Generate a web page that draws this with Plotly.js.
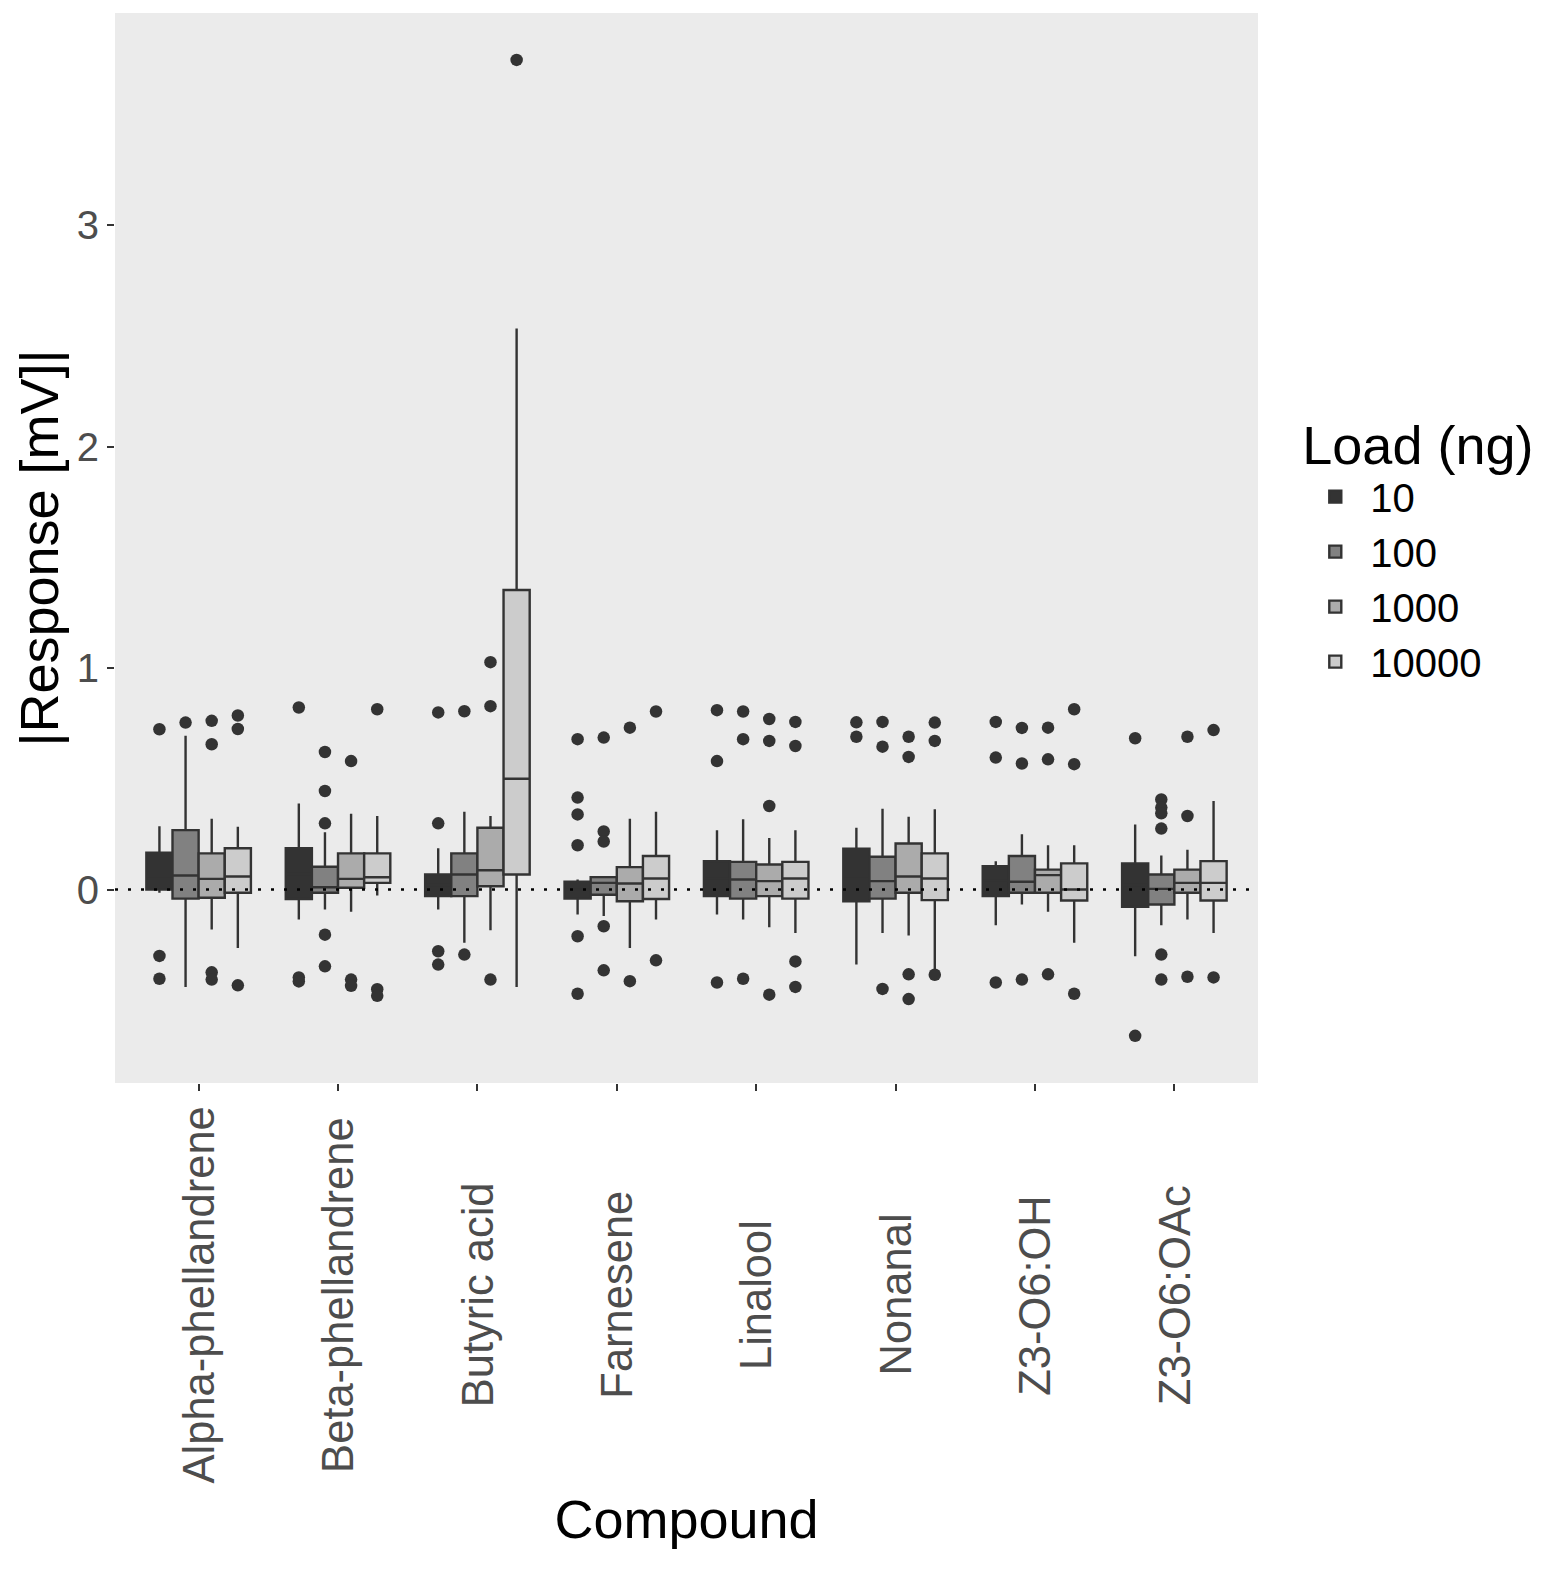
<!DOCTYPE html>
<html>
<head>
<meta charset="utf-8">
<script src="https://cdn.plot.ly/plotly-3.0.1.min.js"></script>
<style>html,body{margin:0;padding:0;background:#fff;overflow:hidden;}#chart{width:1541px;height:1569px;overflow:hidden;}</style>
</head>
<body>
<div id="chart"></div>
<script>
const compounds = ['Alpha-phellandrene','Beta-phellandrene','Butyric acid','Farnesene','Linalool','Nonanal','Z3-O6:OH','Z3-O6:OAc'];
const loads = ['10','100','1000','10000'];
const fills = ['#333333','#818181','#ababab','#cccccc'];

// per load: values per compound (in compound order)
const q1_10   = [0.000,-0.043,-0.030,-0.041,-0.030,-0.053,-0.030,-0.078];
const med_10  = [0.060, 0.070, 0.020, 0.000, 0.050, 0.060, 0.040, 0.020];
const q3_10   = [0.166, 0.186, 0.068, 0.035, 0.128, 0.184, 0.105, 0.118];
const lo_10   = [-0.015,-0.136,-0.090,-0.113,-0.113,-0.339,-0.161,-0.302];
const hi_10   = [0.286, 0.389, 0.186, 0.045, 0.268, 0.279, 0.128, 0.294];
const out_10  = [[0.724,-0.300,-0.403],[0.822,-0.397,-0.415],[0.800,0.299,-0.279,-0.339],[0.679,0.415,0.339,0.200,-0.211,-0.471],[0.810,0.580,-0.420],[0.755,0.690],[0.757,0.596,-0.420],[0.683,-0.661]];

const q1_100  = [-0.041,-0.015,-0.030,-0.024,-0.041,-0.041,-0.015,-0.068];
const med_100 = [0.063, 0.010, 0.068, 0.030, 0.045, 0.038, 0.035, 0.003];
const q3_100  = [0.268, 0.103, 0.163, 0.056, 0.125, 0.148, 0.151, 0.068];
const lo_100  = [-0.440,-0.090,-0.241,-0.120,-0.136,-0.196,-0.068,-0.161];
const hi_100  = [0.694, 0.259, 0.351, 0.056, 0.317, 0.365, 0.249, 0.154];
const out_100 = [[0.754],[0.621,0.445,0.299,-0.204,-0.347],[0.805,-0.294],[0.686,0.262,0.217,-0.166,-0.365],[0.804,0.679,-0.403],[0.757,0.645,-0.449],[0.730,0.569,-0.407],[0.407,0.370,0.344,0.275,-0.294,-0.407]];

const q1_1000  = [-0.037,0.008,0.015,-0.053,-0.030,-0.015,-0.015,-0.015];
const med_1000 = [0.048,0.048,0.087,0.027,0.038,0.059,0.065,0.030];
const q3_1000  = [0.163,0.163,0.279,0.101,0.113,0.208,0.090,0.090];
const lo_1000  = [-0.181,-0.100,-0.184,-0.264,-0.170,-0.208,-0.100,-0.136];
const hi_1000  = [0.320,0.342,0.332,0.320,0.233,0.329,0.200,0.180];
const out_1000 = [[0.762,0.656,-0.374,-0.407],[0.580,-0.407,-0.435],[1.027,0.828,-0.407],[0.731,-0.414],[0.770,0.671,0.377,-0.475],[0.690,0.599,-0.383,-0.495],[0.731,0.588,-0.383],[0.690,0.332,-0.394]];

const q1_10000  = [-0.015,0.030,0.068,-0.043,-0.041,-0.048,-0.050,-0.050];
const med_10000 = [0.059,0.055,0.500,0.050,0.050,0.050,0.000,0.030];
const q3_10000  = [0.186,0.163,1.353,0.151,0.125,0.163,0.118,0.128];
const lo_10000  = [-0.264,-0.027,-0.440,-0.136,-0.196,-0.370,-0.241,-0.196];
const hi_10000  = [0.284,0.332,2.534,0.351,0.268,0.362,0.200,0.400];
const out_10000 = [[0.786,0.725,-0.433],[0.814,-0.450,-0.480],[3.747],[0.804,-0.320],[0.757,0.648,-0.325,-0.440],[0.754,0.671,-0.385],[0.814,0.566,-0.471],[0.720,-0.397]];

const stats = [
  {q1:q1_10, med:med_10, q3:q3_10, lo:lo_10, hi:hi_10, out:out_10},
  {q1:q1_100, med:med_100, q3:q3_100, lo:lo_100, hi:hi_100, out:out_100},
  {q1:q1_1000, med:med_1000, q3:q3_1000, lo:lo_1000, hi:hi_1000, out:out_1000},
  {q1:q1_10000, med:med_10000, q3:q3_10000, lo:lo_10000, hi:hi_10000, out:out_10000}
];

const dodge = 0.75;
const bw = dodge / loads.length;
const pos = compounds.map((c,i)=>i+1);

const traces = [];
stats.forEach((s,j)=>{
  const off = (j - (loads.length-1)/2) * bw;
  traces.push({
    type:'box', name:loads[j], legendgroup:loads[j],
    x: pos.map(p=>p+off),
    q1:s.q1, median:s.med, q3:s.q3, lowerfence:s.lo, upperfence:s.hi,
    width:bw, whiskerwidth:0, boxpoints:false,
    fillcolor:fills[j], line:{color:'#333333', width:2.4},
    hoverinfo:'skip'
  });
});
stats.forEach((s,j)=>{
  const off = (j - (loads.length-1)/2) * bw;
  const xs=[], ys=[];
  s.out.forEach((arr,i)=>arr.forEach(v=>{xs.push(pos[i]+off); ys.push(v);}));
  traces.push({
    type:'scatter', mode:'markers', x:xs, y:ys, showlegend:false, legendgroup:loads[j],
    marker:{color:'#333333', size:12.5}, hoverinfo:'skip'
  });
});

// category labels, centred under each tick (as in the original)
const labelAnnotations = compounds.map((c,i)=>({
  text:c, x:pos[i], xref:'x', y:-0.198, yref:'paper',
  xanchor:'center', yanchor:'middle', textangle:-90, showarrow:false,
  font:{size:43.5, color:'#4d4d4d'}
}));

const layout = {
  width:1541, height:1569,
  margin:{l:115, r:283, t:13, b:486, autoexpand:false},
  paper_bgcolor:'#ffffff', plot_bgcolor:'#ebebeb',
  font:{family:'Liberation Sans, Arial, sans-serif', color:'#000'},
  showlegend:true,
  boxmode:'overlay',
  xaxis:{
    range:[0.4, 8.6], tickmode:'array', tickvals:pos, ticktext:compounds,
    showticklabels:false, showgrid:false, zeroline:false,
    ticks:'outside', ticklen:7, tickwidth:2, tickcolor:'#333333',
    title:{text:'Compound', font:{size:54, color:'#000'}, standoff:410},
    automargin:false
  },
  yaxis:{
    range:[-0.874, 3.959], tickvals:[0,1,2,3], showgrid:false, zeroline:false,
    ticks:'outside', ticklen:7, tickwidth:2, tickcolor:'#333333',
    tickfont:{size:40, color:'#4d4d4d'}, ticklabelstandoff:0,
    title:{text:'|Response [mV]|', font:{size:54, color:'#000'}, standoff:0},
    automargin:false
  },
  legend:{
    x:1.037, xanchor:'left', y:0.644, yanchor:'top',
    title:{text:'Load (ng)', font:{size:54, color:'#000'}},
    font:{size:40, color:'#000'}, bgcolor:'rgba(0,0,0,0)',
    tracegroupgap:0, itemwidth:60
  },
  annotations: labelAnnotations,
  shapes:[{
    type:'line', xref:'paper', x0:0, x1:1, yref:'y', y0:0, y1:0,
    line:{color:'#000', width:2.5, dash:'3px,10px'}, layer:'above'
  }]
};

Plotly.newPlot('chart', traces, layout, {staticPlot:true});
</script>
</body>
</html>
